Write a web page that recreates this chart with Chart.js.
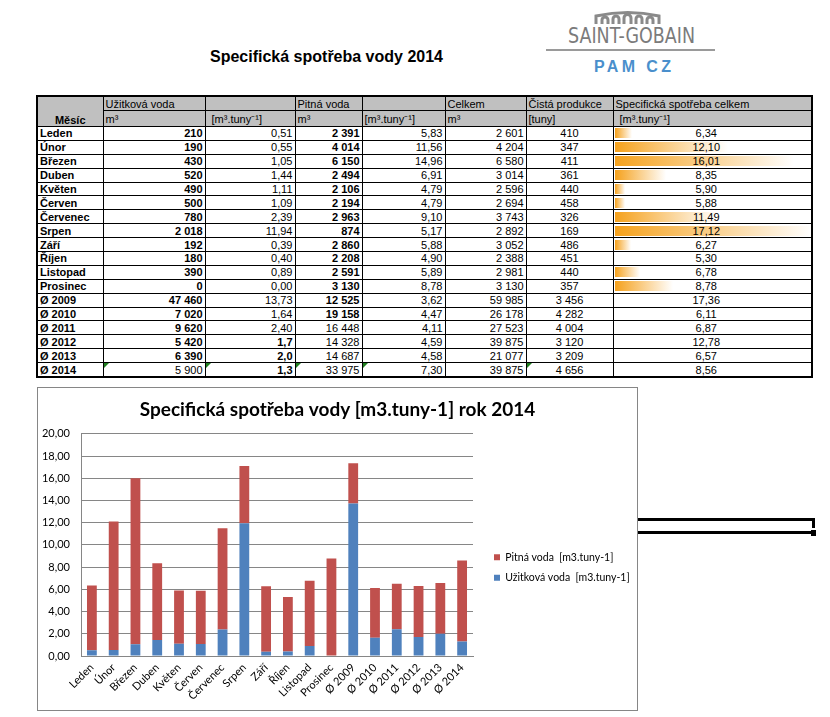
<!DOCTYPE html>
<html>
<head>
<meta charset="utf-8">
<script src="https://cdn.jsdelivr.net/npm/chart.js"></script>
<style>
  body { margin: 0; background: #fff; width: 830px; height: 717px; position: relative; overflow: hidden;
         font-family: "Liberation Sans", Arial, sans-serif; }
  #nadpis { position: absolute; left: 210px; top: 48px; font: bold 16px "Liberation Sans", Arial, sans-serif; white-space: nowrap; }
  #logo { position: absolute; left: 0; top: 0; }
  #tabulka { position: absolute; left: 36px; top: 95px; border-collapse: collapse; table-layout: fixed;
             border: 2px solid #000; font-size: 11px; }
  #tabulka td { border: 1px solid #000; padding: 0 2px; height: 12.9px; line-height: 12px; white-space: nowrap;
                overflow: hidden; position: relative; }
  #tabulka tr.h td { background: #c0c0c0; }
  #tabulka tr.h1 td { height: 13px; }
  #tabulka tr.h2 td { height: 15px; }
  .r { text-align: right; }
  .c { text-align: center; }
  .b { font-weight: bold; }
  .tri { position: absolute; left: 0; top: 0; width: 0; height: 0; border-top: 5px solid #1f7f1f; border-right: 5px solid transparent; }
  #graf { position: absolute; left: 37px; top: 387px; width: 601px; height: 324px; box-sizing: border-box; border: 1px solid #868686; }
  #graf canvas { position: absolute; left: 0; top: 0; }
  .cara { position: absolute; background: #000; }
</style>
</head>
<body>

<div id="nadpis">Specifická spotřeba vody 2014</div>

<svg id="logo" width="830" height="90">
  <g fill="none" stroke="#8a8a8a" stroke-width="3">
    <path d="M596 24 V16 Q628 9 659 16 V24"/>
    <path d="M602 24 V20 a3 3 0 0 1 6 0 V24"/>
    <path d="M613 24 V19 a3 3 0 0 1 6 0 V24"/>
    <path d="M624 24 V18 a3 3 0 0 1 7 0 V24"/>
    <path d="M636 24 V19 a3 3 0 0 1 6 0 V24"/>
    <path d="M647 24 V20 a3 3 0 0 1 6 0 V24"/>
  </g>
  <text x="568" y="43" font-family="Liberation Sans Narrow, DejaVu Sans Condensed, sans-serif" font-size="21" fill="#7b7b7b"
        textLength="127" lengthAdjust="spacingAndGlyphs">SAINT-GOBAIN</text>
  <line x1="546" y1="50" x2="715" y2="50" stroke="#9a9a9a" stroke-width="2"/>
  <text x="594" y="72" font-family="Liberation Sans, Arial, sans-serif" font-size="16" font-weight="bold" fill="#4a8fcc"
        textLength="77" lengthAdjust="spacing">PAM CZ</text>
</svg>

<table id="tabulka">
  <colgroup>
    <col style="width:66px"><col style="width:102px"><col style="width:90px"><col style="width:67px">
    <col style="width:83px"><col style="width:81px"><col style="width:87px"><col style="width:199px">
  </colgroup>
  <tbody id="telo">
    <tr class="h h1">
      <td rowspan="2" class="c b" style="vertical-align:bottom">Měsíc</td>
      <td>Užitková voda</td><td></td><td>Pitná voda</td><td></td><td>Celkem</td><td>Čistá produkce</td><td>Specifická spotřeba celkem</td>
    </tr>
    <tr class="h h2">
      <td>m³</td><td style="padding-left:6px">[m³.tuny⁻¹]</td><td>m³</td><td>[m³.tuny⁻¹]</td><td>m³</td><td>[tuny]</td><td style="padding-left:6px">[m³.tuny⁻¹]</td>
    </tr>
  </tbody>
</table>

<div id="graf"><canvas id="grafico" width="599" height="322"></canvas></div>

<div class="cara" style="left:638px;top:518px;width:177px;height:3px"></div>
<div class="cara" style="left:638px;top:531px;width:174px;height:3px"></div>
<div class="cara" style="left:812px;top:518px;width:3px;height:10px"></div>
<div class="cara" style="left:811px;top:530px;width:5px;height:6px"></div>

<script>
  const mesice = ["Leden", "Únor", "Březen", "Duben", "Květen", "Červen", "Červenec", "Srpen", "Září", "Říjen",
                  "Listopad", "Prosinec", "Ø 2009", "Ø 2010", "Ø 2011", "Ø 2012", "Ø 2013", "Ø 2014"];
  const uzitkovaM3 = [210, 190, 430, 520, 490, 500, 780, 2018, 192, 180, 390, 0, 47460, 7020, 9620, 5420, 6390, 5900];
  const uzitkovaSpec = [0.51, 0.55, 1.05, 1.44, 1.11, 1.09, 2.39, 11.94, 0.39, 0.40, 0.89, 0.00, 13.73, 1.64, 2.40, 1.7, 2.0, 1.3];
  const pitnaM3 = [2391, 4014, 6150, 2494, 2106, 2194, 2963, 874, 2860, 2208, 2591, 3130, 12525, 19158, 16448, 14328, 14687, 33975];
  const pitnaSpec = [5.83, 11.56, 14.96, 6.91, 4.79, 4.79, 9.10, 5.17, 5.88, 4.90, 5.89, 8.78, 3.62, 4.47, 4.11, 4.59, 4.58, 7.30];
  const celkemM3 = [2601, 4204, 6580, 3014, 2596, 2694, 3743, 2892, 3052, 2388, 2981, 3130, 59985, 26178, 27523, 39875, 21077, 39875];
  const produkce = [410, 347, 411, 361, 440, 458, 326, 169, 486, 451, 440, 357, 3456, 4282, 4004, 3120, 3209, 4656];
  const specCelkem = [6.34, 12.10, 16.01, 8.35, 5.90, 5.88, 11.49, 17.12, 6.27, 5.30, 6.78, 8.78, 17.36, 6.11, 6.87, 12.78, 6.57, 8.56];

  const osaYMax = 20;
  const osaYKrok = 2;

  // pomocne formatovani cisel (mezera jako oddelovac tisicu, carka desetinna)
  const tisice = n => String(n).replace(/\B(?=(\d{3})+(?!\d))/g, " ");
  const des = (v, d) => v.toFixed(d).replace(".", ",");

  // tabulka
  const mesicniSpec = specCelkem.slice(0, 12);
  const minS = Math.min(...mesicniSpec), maxS = Math.max(...mesicniSpec);
  const telo = document.getElementById("telo");
  mesice.forEach((m, i) => {
    const posledni = i === mesice.length - 1;
    const tri = posledni ? '<span class="tri"></span>' : "";
    let pruh = "";
    if (i < 12) {
      const w = Math.round((specCelkem[i] - minS) / (maxS - minS) * 197);
      pruh = `background:linear-gradient(to right,#f5a11c,#fff) no-repeat 1px 50% / ${w}px 10px;`;
    }
    const tr = document.createElement("tr");
    tr.innerHTML =
      `<td class="b">${m}</td>` +
      `<td class="r${posledni ? "" : " b"}">${tri}${tisice(uzitkovaM3[i])}</td>` +
      `<td class="r${i >= 15 ? " b" : ""}">${tri}${des(uzitkovaSpec[i], i >= 15 ? 1 : 2)}</td>` +
      `<td class="r${i <= 13 ? " b" : ""}">${tri}${tisice(pitnaM3[i])}</td>` +
      `<td class="r">${tri}${des(pitnaSpec[i], 2)}</td>` +
      `<td class="r">${tisice(celkemM3[i])}</td>` +
      `<td class="c">${tri}${tisice(produkce[i])}</td>` +
      `<td class="c" style="padding-right:14px;${pruh}">${des(specCelkem[i], 2)}</td>`;
    telo.appendChild(tr);
  });

  // posun legendy a titulku do pozice jako v Excelu
  const posunLegendy = {
    id: "posunLegendy",
    afterLayout(chart) {
      const lg = chart.legend;
      const dx = chart.chartArea.right + 11 - lg.left;
      lg.left += dx; lg.right += dx;
      lg.top += 18.5; lg.bottom += 18.5;
      const t = chart.titleBlock;
      t.left += 7; t.right += 7;
    }
  };

  const pismo = "Lato, 'Open Sans', sans-serif";
  const ctx = document.getElementById("grafico").getContext("2d");

  new Chart(ctx, {
    type: "bar",
    data: {
      labels: mesice,
      datasets: [
        { label: "Užitková voda  [m3.tuny-1]", data: uzitkovaSpec, backgroundColor: "#4F81BD" },
        { label: "Pitná voda  [m3.tuny-1]", data: pitnaSpec, backgroundColor: "#C0504D" }
      ]
    },
    options: {
      responsive: false,
      animation: false,
      layout: { padding: { right: 14 } },
      datasets: { bar: { barPercentage: 0.45, categoryPercentage: 1 } },
      plugins: {
        title: {
          display: true,
          text: "Specifická spotřeba vody [m3.tuny-1] rok 2014",
          color: "#000",
          font: { family: pismo, size: 19, weight: "bold" },
          padding: { top: 10, bottom: 13 }
        },
        legend: {
          position: "right",
          reverse: true,
          maxWidth: 150,
          labels: { boxWidth: 6, boxHeight: 6, padding: 10, color: "#000", font: { family: pismo, size: 10.5 } }
        },
        tooltip: { enabled: false }
      },
      scales: {
        x: {
          stacked: true,
          grid: { display: false, drawTicks: false },
          border: { color: "#868686" },
          ticks: { minRotation: 45, maxRotation: 45, autoSkip: false, padding: 5, color: "#000", font: { family: pismo, size: 11 } },
          afterFit(s) { s.height = 54; }
        },
        y: {
          stacked: true,
          min: 0,
          max: osaYMax,
          grid: { color: "#868686", drawTicks: false },
          border: { color: "#868686" },
          ticks: { stepSize: osaYKrok, padding: 11, color: "#000", font: { family: pismo, size: 11 },
                   callback: v => des(v, 2) },
          afterFit(s) { s.width = 43; }
        }
      }
    },
    plugins: [posunLegendy]
  });
</script>
</body>
</html>
